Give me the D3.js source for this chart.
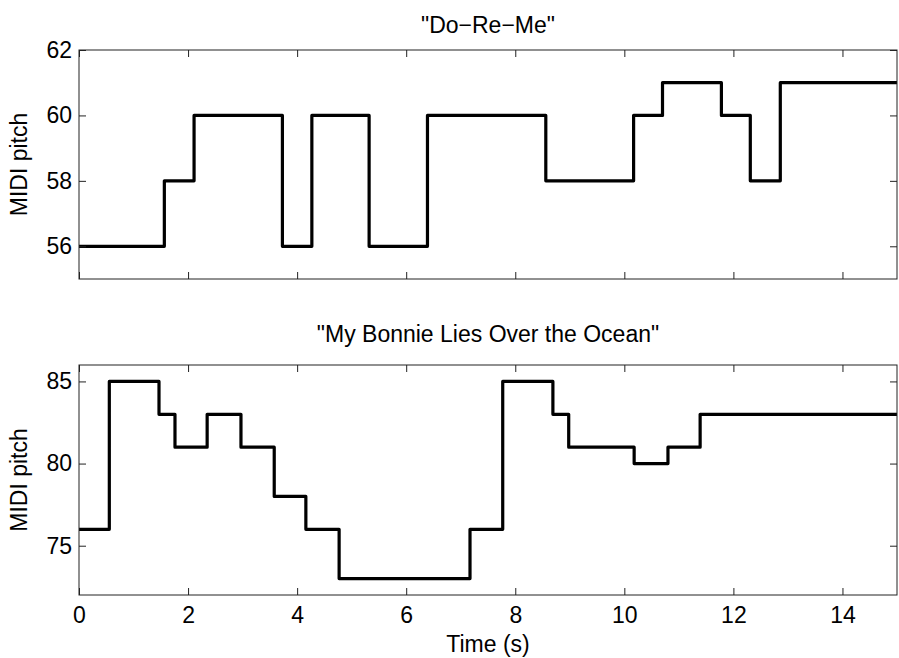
<!DOCTYPE html>
<html>
<head>
<meta charset="utf-8">
<script src="https://cdn.jsdelivr.net/npm/d3@7"></script>
<style>
  body { margin: 0; background: white; }
  text { font-family: "Liberation Sans", Arial, Helvetica, sans-serif; fill: #000; }
</style>
</head>
<body>
<svg id="chart" width="899" height="658"></svg>
<script>
// note onset times (s) and MIDI pitch of each note
const doremeTimes   = [0, 1.565, 2.11, 3.73, 4.27, 5.32, 6.39, 8.56, 10.17, 10.70, 11.78, 12.31, 12.86];
const doremePitches = [56, 58, 60, 56, 60, 56, 60, 58, 60, 61, 60, 58, 61];

const bonnieTimes   = [0, 0.556, 1.467, 1.76, 2.35, 2.97, 3.58, 4.16, 4.77, 7.17, 7.77, 8.69, 8.98, 10.18, 10.80, 11.39];
const bonniePitches = [76, 85, 83, 81, 83, 81, 78, 76, 73, 76, 85, 83, 81, 80, 81, 83];

const endTime = 15;
const xTicks = [0, 2, 4, 6, 8, 10, 12, 14];
const doremeTicks = [56, 58, 60, 62];
const bonnieTicks = [75, 80, 85];

const svg = d3.select("svg#chart");

const left = 79, right = 897;
const fontSize = 23;
const x = d3.scaleLinear().domain([0, endTime]).range([left, right]);

const panels = [
  { title: '"Do\u2212Re\u2212Me"', times: doremeTimes, pitches: doremePitches,
    domain: [55, 62], ticks: doremeTicks, top: 50, bottom: 279, titleY: 33, xLabels: false },
  { title: '"My Bonnie Lies Over the Ocean"', times: bonnieTimes, pitches: bonniePitches,
    domain: [72, 86], ticks: bonnieTicks, top: 365, bottom: 595, titleY: 342, xLabels: true }
];

const tickLen = 7;

panels.forEach(function(p) {
  const y = d3.scaleLinear().domain(p.domain).range([p.bottom, p.top]);
  const g = svg.append("g");

  // step line
  const pts = p.times.map((t, i) => [t, p.pitches[i]]);
  pts.push([endTime, p.pitches[p.pitches.length - 1]]);
  const line = d3.line()
    .x(d => x(d[0]))
    .y(d => y(d[1]))
    .curve(d3.curveStepAfter);

  g.append("path")
    .datum(pts)
    .attr("d", line)
    .attr("fill", "none")
    .attr("stroke", "#000")
    .attr("stroke-width", 3.2)
    .attr("stroke-linejoin", "round");

  // axes on all four sides, ticks pointing inward
  const axes = [
    { ax: d3.axisBottom(x).tickValues(xTicks).tickPadding(12), tr: [0, p.bottom], labels: p.xLabels },
    { ax: d3.axisTop(x).tickValues(xTicks), tr: [0, p.top], labels: false },
    { ax: d3.axisLeft(y).tickValues(p.ticks).tickPadding(7), tr: [left, 0], labels: true },
    { ax: d3.axisRight(y).tickValues(p.ticks), tr: [right, 0], labels: false }
  ];

  axes.forEach(function(a) {
    const ag = g.append("g")
      .attr("transform", "translate(" + a.tr[0] + "," + a.tr[1] + ")")
      .call(a.ax.tickSizeInner(-tickLen).tickSizeOuter(0).tickFormat(d3.format("d")));
    ag.attr("font-size", null).attr("font-family", null);
    ag.select(".domain").remove();
    ag.selectAll(".tick line").attr("stroke", "#222").attr("stroke-width", 1);
    ag.selectAll(".tick text")
      .style("font-size", fontSize + "px")
      .attr("fill", "#000");
    if (!a.labels) ag.selectAll(".tick text").remove();
  });

  // box
  g.append("rect")
    .attr("x", left)
    .attr("y", p.top)
    .attr("width", right - left)
    .attr("height", p.bottom - p.top)
    .attr("fill", "none")
    .attr("stroke", "#222")
    .attr("stroke-width", 1);

  // title
  g.append("text")
    .attr("x", (left + right) / 2)
    .attr("y", p.titleY)
    .attr("text-anchor", "middle")
    .style("font-size", fontSize + "px")
    .text(p.title);

  // y label
  g.append("text")
    .attr("transform", "translate(27," + ((p.top + p.bottom) / 2) + ") rotate(-90)")
    .attr("text-anchor", "middle")
    .style("font-size", fontSize + "px")
    .text("MIDI pitch");
});

svg.append("text")
  .attr("x", (left + right) / 2)
  .attr("y", 652)
  .attr("text-anchor", "middle")
  .style("font-size", fontSize + "px")
  .text("Time (s)");
</script>
</body>
</html>
